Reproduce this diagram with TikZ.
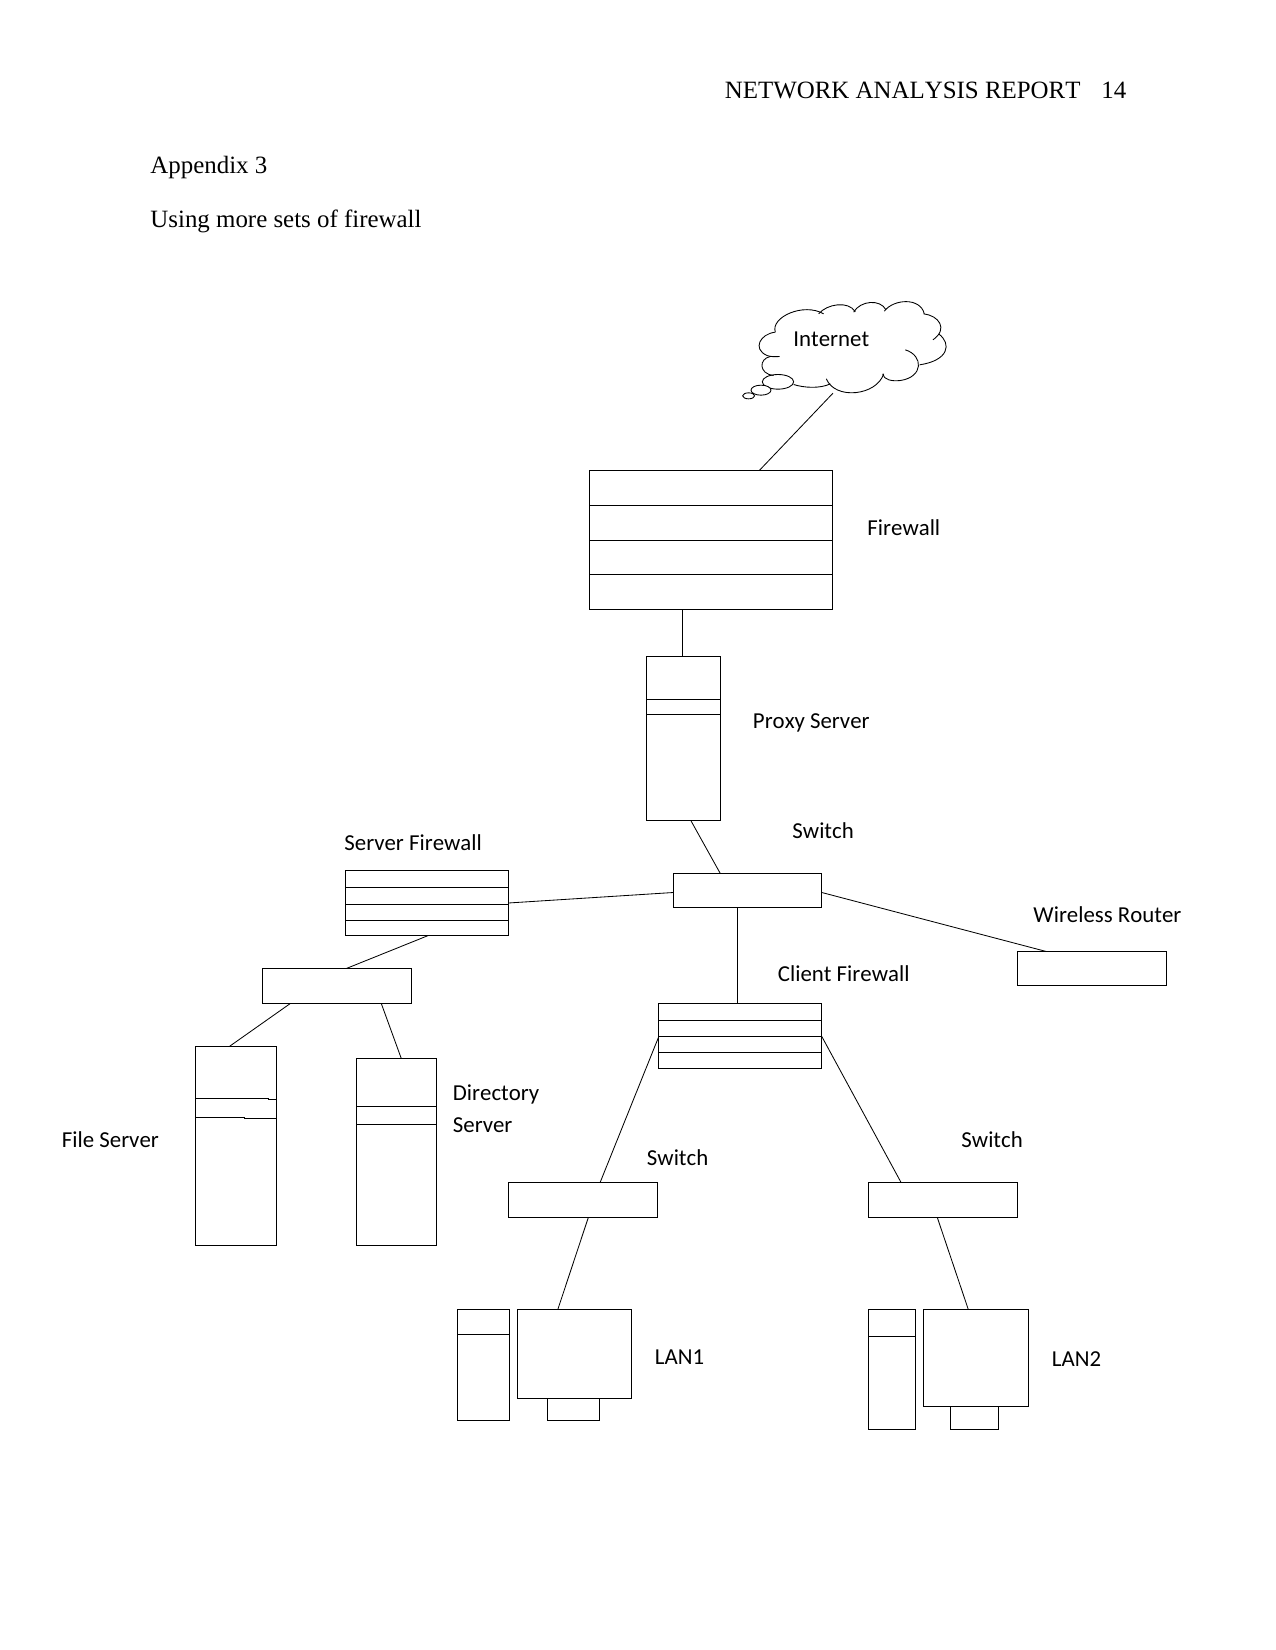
\documentclass[tikz,border=0pt]{standalone}
\usepackage{fontspec}
\setmainfont[Kerning=Off]{Liberation Serif}
\newfontfamily\labelfont[Kerning=Off]{Carlito}
\usetikzlibrary{fit}
\tikzset{
    box/.style={draw,line width=0.42pt,inner sep=0pt,outer sep=0pt},
    wire/.style={line width=0.4pt},
    pagetext/.style={anchor=base west,inner sep=0pt,xshift=0.35pt,font=\fontsize{12}{14}\selectfont},
    tag/.style={anchor=base west,inner sep=0pt,xshift=0.35pt,font=\labelfont\fontsize{11}{13}\selectfont}
}
\begin{document}
\begin{tikzpicture}[x=0.4818pt,y=-0.4818pt]
        \useasboundingbox (-0.3,-0.5) rectangle (1274.7,1649.5);
        % Draw page heading
        \node[pagetext] (heading) at (723.5,98.5) {NETWORK ANALYSIS REPORT};
        \node[pagetext] (pagenum) at (1100,98.5) {14};
        \node[pagetext] (appendix) at (149,173) {Appendix 3};
        \node[pagetext] (subtitle) at (149,227.5) {Using more sets of firewall};
        % Draw internet cloud
        \begin{scope}[shift={(720,280)},x=0.1606pt,y=-0.1606pt,line width=0.42pt]
            \draw (165,155) .. controls (120,160) and (95,205) .. (140,225) .. controls (150,229) and (165,229) .. (178,228);
            \draw (165,155) .. controls (150,110) and (250,65) .. (310,100);
            \draw (295,100) .. controls (320,70) and (385,60) .. (405,94);
            \draw (400,95) .. controls (420,60) and (480,55) .. (497,88);
            \draw (492,92) .. controls (520,55) and (600,50) .. (612,100);
            \draw (610,100) .. controls (655,105) and (685,145) .. (638,178);
            \draw (655,160) .. controls (695,190) and (685,240) .. (598,253);
            \draw (555,208) .. controls (610,225) and (610,290) .. (540,300) .. controls (515,303) and (490,298) .. (487,280);
            \draw (490,280) .. controls (470,345) and (345,360) .. (318,295);
            \draw (330,310) .. controls (300,325) and (250,322) .. (220,312);
            \draw (150,228) .. controls (115,235) and (115,280) .. (160,285);
            \draw (173,304) ellipse (47 and 22);
            \draw[fill=white] (122,329) ellipse (30 and 15);
            \draw[fill=white] (85,346) ellipse (18 and 9);
            \coordinate (cloudtail) at (338,338);
        \end{scope}
        \node[tag] (internet) at (792,346.5) {Internet};
        % Draw firewall and proxy server
        \node[box,fit={(589,470) (832,609)}] (firewall) {};
        \draw[box] (firewall.west |- 0,505) -- (firewall.east |- 0,505)
            (firewall.west |- 0,540) -- (firewall.east |- 0,540)
            (firewall.west |- 0,574) -- (firewall.east |- 0,574);
        \node[tag] (firewalltag) at (866,535) {Firewall};
        \node[box,fit={(646,656) (720.5,820)}] (proxy) {};
        \draw[box] (proxy.west |- 0,698.5) -- (proxy.east |- 0,698.5)
            (proxy.west |- 0,714) -- (proxy.east |- 0,714);
        \node[tag] (proxytag) at (751.5,727.5) {Proxy Server};
        % Draw main switch and its neighbours
        \node[box,fit={(673,873) (821.5,907)}] (mainswitch) {};
        \node[tag] (mainswitchtag) at (791,837.5) {Switch};
        \node[box,fit={(345,870) (508,935)}] (serverfw) {};
        \draw[box] (serverfw.west |- 0,887) -- (serverfw.east |- 0,887)
            (serverfw.west |- 0,904) -- (serverfw.east |- 0,904)
            (serverfw.west |- 0,920) -- (serverfw.east |- 0,920);
        \node[tag] (serverfwtag) at (343,849.5) {Server Firewall};
        \node[box,fit={(658.5,1003) (821.5,1068)}] (clientfw) {};
        \draw[box] (clientfw.west |- 0,1019.5) -- (clientfw.east |- 0,1019.5)
            (clientfw.west |- 0,1036) -- (clientfw.east |- 0,1036)
            (clientfw.west |- 0,1052) -- (clientfw.east |- 0,1052);
        \node[tag] (clientfwtag) at (776.5,981) {Client Firewall};
        \node[box,fit={(1017,951) (1166,985)}] (router) {};
        \node[tag] (routertag) at (1032,922) {Wireless Router};
        % Draw server side
        \node[box,fit={(262,968) (411,1003)}] (serverswitch) {};
        \node[box,fit={(195,1046) (276,1245)}] (fileserver) {};
        \draw[box] (fileserver.west |- 0,1097.5) -- (268,1097.5) -- (268,1098.5) -- (fileserver.east |- 0,1098.5)
            (fileserver.west |- 0,1116.5) -- (244,1116.5) -- (244,1117.5) -- (fileserver.east |- 0,1117.5);
        \node[tag] (fileservertag) at (60.5,1147) {File Server};
        \node[box,fit={(356,1058) (436,1245)}] (dirserver) {};
        \draw[box] (dirserver.west |- 0,1106.3) -- (dirserver.east |- 0,1106.3)
            (dirserver.west |- 0,1124.3) -- (dirserver.east |- 0,1124.3);
        \node[tag] (dirservertag) at (451.5,1099.5) {Directory};
        \node[tag] (dirservertagb) at (451.5,1131.5) {Server};
        % Draw client side switches
        \node[box,fit={(508,1181.5) (657.5,1217)}] (leftswitch) {};
        \node[tag] (leftswitchtag) at (645.5,1165) {Switch};
        \node[box,fit={(868,1181.5) (1017,1217)}] (rightswitch) {};
        \node[tag] (rightswitchtag) at (960,1146.5) {Switch};
        % Draw LAN1
        \node[box,fit={(457,1309) (509,1420)}] (towera) {};
        \draw[box] (towera.west |- 0,1334) -- (towera.east |- 0,1334);
        \node[box,fit={(517.6,1309) (631.5,1398)}] (monitora) {};
        \node[box,fit={(547.5,1398) (599.5,1420)}] (standa) {};
        \node[tag] (lanatag) at (653.5,1364) {LAN1};
        % Draw LAN2
        \node[box,fit={(868,1309) (915.5,1429)}] (towerb) {};
        \draw[box] (towerb.west |- 0,1336) -- (towerb.east |- 0,1336);
        \node[box,fit={(923,1309) (1028.5,1405.5)}] (monitorb) {};
        \node[box,fit={(950,1405.5) (998.5,1429)}] (standb) {};
        \node[tag] (lanbtag) at (1050.5,1366) {LAN2};
        % Draw connecting lines
        \draw[wire] (cloudtail) -- (firewall.north -| 759,0);
        \draw[wire] (firewall.south -| 682,0) -- (proxy.north -| 682,0);
        \draw[wire] (proxy.south -| 690.5,0) -- (mainswitch.north -| 720,0);
        \draw[wire] (mainswitch.west |- 0,892) -- (serverfw.east |- 0,902.5);
        \draw[wire] (mainswitch.east |- 0,892) -- (router.north -| 1046,0);
        \draw[wire] (mainswitch.south -| 737,0) -- (clientfw.north -| 737,0);
        \draw[wire] (serverfw.south -| 428,0) -- (serverswitch.north -| 346,0);
        \draw[wire] (serverswitch.south -| 290,0) -- (fileserver.north -| 229,0);
        \draw[wire] (serverswitch.south -| 381,0) -- (dirserver.north -| 401,0);
        \draw[wire] (clientfw.west |- 0,1036) -- (leftswitch.north -| 600,0);
        \draw[wire] (clientfw.east |- 0,1036) -- (rightswitch.north -| 900.5,0);
        \draw[wire] (leftswitch.south -| 588,0) -- (monitora.north -| 557.5,0);
        \draw[wire] (rightswitch.south -| 937,0) -- (monitorb.north -| 968,0);
    \end{tikzpicture}
\end{document}
